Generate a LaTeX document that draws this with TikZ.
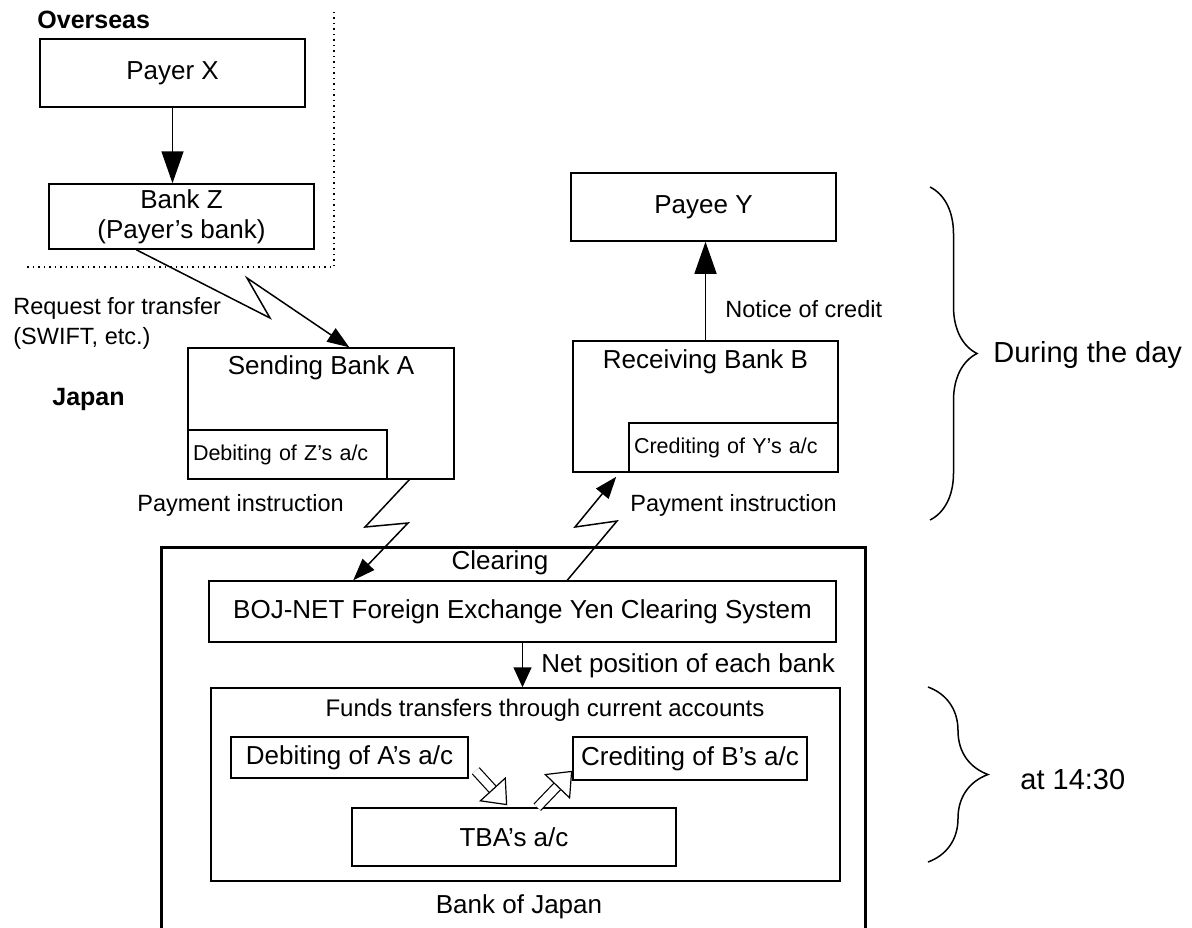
\documentclass[tikz,border=0pt]{standalone}
\usepackage{fontspec}
\setmainfont{Liberation Sans}
\usetikzlibrary{arrows.meta,positioning,decorations.pathreplacing}

\begin{document}
\begin{tikzpicture}[
    x=0.5pt, y=-0.5pt,
    box/.style={draw, line width=.75pt, inner sep=0pt, font=\fontsize{13}{15}\selectfont},
    subbox/.style={draw, line width=.75pt, inner sep=0pt, inner xsep=2.5pt, align=left, font=\fontsize{10.75}{12}\selectfont},
    big/.style={inner sep=0pt, font=\fontsize{13}{15}\selectfont},
    lbl/.style={inner sep=0pt, font=\fontsize{11.75}{15}\selectfont},
    area/.style={inner sep=0pt, font=\bfseries\fontsize{12.5}{15}\selectfont},
    side/.style={inner sep=0pt, font=\fontsize{14.5}{17}\selectfont},
    push/.style={-{Triangle[length=16pt,width=11pt]}, line width=.75pt},
    zig/.style={-{Triangle[length=11pt,width=8pt]}, line width=.75pt},
    net/.style={-{Triangle[length=10pt,width=9pt]}, line width=.75pt},
    hollow/.style={double, double distance=4pt, line width=.6pt, -{Triangle[open,length=11pt,width=18pt]}},
    curly/.style={decorate, decoration={brace, amplitude=#1}, line width=.75pt}, curly/.default=12pt,
  ]
  \useasboundingbox (0,0) rectangle (1192,927);

  % overseas side
  \node[area, anchor=west] (ovs) at (37,20) {Overseas};
  \node[box, minimum width=132.5pt, minimum height=34pt] (payerX) at (172.5,73) {Payer X};
  \node[box, minimum width=132.5pt, minimum height=32.5pt, align=center] (bankZ) at (181.5,216.5) {Bank Z\\(Payer's bank)};
  \draw[dotted, line width=.75pt] (27,267) -- (334,267) -- (334,8);
  \draw[push] (payerX.south) -- (payerX.south |- bankZ.north);

  % japan side
  \node[area, anchor=base west] (jpn) at (52,405) {Japan};
  \node[lbl, anchor=west, align=left] (reql) at (13,323) {Request for transfer\\(SWIFT, etc.)};
  \node[box, minimum width=133pt, minimum height=65.5pt] (sendA) at (321,413.5) {};
  \node[big, below=4pt of sendA.north] (sendAt) {Sending Bank A};
  \node[subbox, text width=94.5pt, minimum height=24.5pt, anchor=south west] (debZ) at (sendA.south west) {Debiting of Z's a/c};

  \node[box, minimum width=132.5pt, minimum height=34pt] (payeeY) at (703.5,207) {Payee Y};
  \node[box, minimum width=132.5pt, minimum height=65.5pt] (recvB) at (705.5,406.5) {};
  \node[big, below=4.5pt of recvB.north] (recvBt) {Receiving Bank B};
  \node[subbox, text width=99.5pt, minimum height=24.5pt, anchor=south east] (credY) at (recvB.south east) {Crediting of Y's a/c};
  \draw[push] (recvB.north) -- (recvB.north |- payeeY.south);
  \node[lbl, anchor=base west] (notl) at (725,317) {Notice of credit};

  \node[lbl, anchor=base west] (payl1) at (137,511) {Payment instruction};
  \node[lbl, anchor=base west] (payl2) at (630,511) {Payment instruction};

  % bank of japan
  \node[draw, line width=1.5pt, minimum width=352pt, minimum height=200pt, anchor=north west] (boj) at (160,546) {};
  \node[big] (clr) at (500,563) {Clearing};
  \node[box, minimum width=313.5pt, minimum height=30.5pt] (bojnet) at (522.5,611.5) {BOJ-NET Foreign Exchange Yen Clearing System};
  \node[box, minimum width=314.5pt, minimum height=96.5pt] (funds) at (525.5,784.5) {};
  \node[inner sep=0pt, font=\fontsize{12}{14}\selectfont] (fundst) at (545,710) {Funds transfers through current accounts};
  \node[box, minimum width=118.5pt, minimum height=20.5pt] (debA) at (349.5,757.5) {Debiting of A's a/c};
  \node[box, minimum width=117pt, minimum height=21.5pt] (credB) at (690,758.5) {Crediting of B's a/c};
  \node[box, minimum width=162pt, minimum height=29pt] (tba) at (514,837) {TBA's a/c};
  \node[big] (bojt) at (519,907) {Bank of Japan};

  \draw[net] (bojnet.south) -- (bojnet.south |- funds.north);
  \node[big, anchor=base west] (netl) at (541,672) {Net position of each bank};
  \draw[hollow] ([xshift=3.5pt,yshift=4pt]debA.south east) -- ([xshift=78pt,yshift=1pt]tba.north west);
  \draw[hollow] ([xshift=93pt]tba.north west) -- ([yshift=5pt]credB.south west);

  % zigzag messages
  \draw[zig] ([xshift=44pt]bankZ.south west) -- (270,318) -- (247,278) -- ([xshift=81pt]sendA.north west);
  \draw[zig] ([xshift=111pt]sendA.south west) -- (365,527) -- (408,523) -- ([xshift=72.5pt]bojnet.north west);
  \draw[zig] ([xshift=179.5pt]bojnet.north west) -- (617,521) -- (575,527) -- ([xshift=22pt,yshift=-2pt]recvB.south west);

  % time braces
  \draw[curly=23.5pt] (930,187) -- (930,520);
  \node[side, anchor=west] (dayl) at (993,355) {During the day};
  \draw[curly=30pt] (928,687) -- (928,862);
  \node[side, anchor=west] (timel) at (1020,779) {at 14:30};
\end{tikzpicture}
\end{document}
